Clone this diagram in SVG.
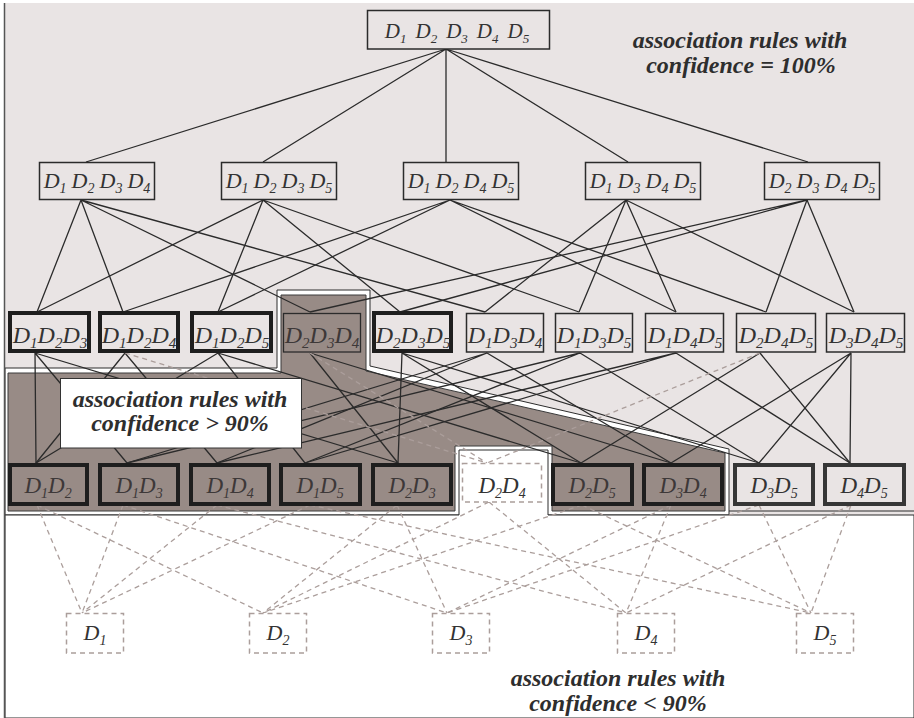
<svg xmlns="http://www.w3.org/2000/svg" width="914" height="718" viewBox="0 0 914 718">
  <style>
    .bg-light { fill: #e9e4e4; }
    .bg-dark { fill: #988b86; stroke: #3a3a3a; stroke-width: 1; }
    .bg-white { fill: #ffffff; stroke: #2d2d2d; stroke-width: 1; }
    .e { fill: none; stroke: #2b2b2b; stroke-width: 1.3; }
    .d { fill: none; stroke: #ab9e9b; stroke-width: 1.3; stroke-dasharray: 5 4; }
    .box { fill: #e9e4e4; stroke: #2b2b2b; stroke-width: 1.5; }
    .boxd { fill: #988b86; stroke: #2b2b2b; stroke-width: 1.3; }
    .thick { fill: #e9e4e4; stroke: #1e1e1e; stroke-width: 4; }
    .thickd { fill: #988b86; stroke: #1e1e1e; stroke-width: 4; }
    .thickg { fill: #e9e4e4; stroke: #363636; stroke-width: 4; }
    .dash { fill: #ffffff; stroke: #ab9e9b; stroke-width: 1.5; stroke-dasharray: 5 4; }
    .n { font-family: "Liberation Serif", "Times New Roman", serif; font-style: italic; fill: #333333; text-anchor: middle; }
    .nd { fill: #3d3838; }
    .t5 { font-size: 21px; }
    .t4 { font-size: 22px; }
    .t3 { font-size: 24px; }
    .t2 { font-size: 23px; }
    .t1 { font-size: 22px; }
    .s13 { font-size: 13px; }
    .s14 { font-size: 14px; }
    .s15 { font-size: 15px; }
    .lab { font-family: "Liberation Serif", "Times New Roman", serif; font-style: italic; font-weight: bold; font-size: 24px; fill: #2e2e2e; text-anchor: middle; }
  </style>

  <!-- confidence regions -->
  <g id="regions">
    <rect class="bg-light" x="5" y="3" width="909" height="512"/>
    <path class="bg-white" d="M5,368 H277 V290 H370 V366 L729,449 V515 H5 Z"/>
    <path class="bg-dark" d="M8,373 H281 V295 H366 V371 L725,453 V511 H552 V446 H455 V511 H8 Z"/>
    <path class="bg-white" d="M5,718 V515 H459 V450 H548 V515 H914 V718 Z"/>
    <line x1="729" y1="511" x2="914" y2="511" stroke="#2d2d2d" stroke-width="1"/>
    <line x1="4.5" y1="3" x2="4.5" y2="718" stroke="#555555" stroke-width="1.5"/>
  </g>

  <!-- connectors -->
  <g id="connectors">
    <!-- 5-set to 4-sets -->
    <path class="e" d="M446,49 L86,162 M446,49 L263,162 M446,49 L446,162 M446,49 L628,162 M446,49 L808,162"/>
    <!-- 4-sets to 3-sets -->
    <path class="e" d="M81,200 L37,312 M81,200 L123,312 M81,200 L485,312 M81,200 L310,312"/>
    <path class="e" d="M263,200 L37,312 M263,200 L218,312 M263,200 L579,312 M263,200 L400,312"/>
    <path class="e" d="M450,200 L123,312 M450,200 L218,312 M450,200 L676,312 M450,200 L766,312"/>
    <path class="e" d="M626,200 L485,312 M626,200 L579,312 M626,200 L676,312 M626,200 L854,312"/>
    <path class="e" d="M807,200 L310,312 M807,200 L400,312 M807,200 L766,312 M807,200 L854,312"/>
    <!-- 3-sets to 2-sets -->
    <path class="e" d="M35,353 L36,463 M35,353 L127,463 M35,353 L398,463"/>
    <path class="e" d="M125,353 L36,463 M125,353 L217,463"/>
    <path class="e" d="M218,353 L36,463 M218,353 L305,463 M218,353 L581,463"/>
    <path class="e" d="M310,353 L398,463 M310,353 L671,463"/>
    <path class="e" d="M402,353 L398,463 M402,353 L581,463 M402,353 L759,463"/>
    <path class="e" d="M487,353 L127,463 M487,353 L217,463 M487,353 L671,463"/>
    <path class="e" d="M580,353 L127,463 M580,353 L305,463 M580,353 L759,463"/>
    <path class="e" d="M676,353 L217,463 M676,353 L305,463 M676,353 L850,463"/>
    <path class="e" d="M760,353 L581,463 M760,353 L850,463"/>
    <path class="e" d="M851,353 L671,463 M851,353 L759,463 M851,353 L850,463"/>
    <!-- edges into the rejected 2-set -->
    <path class="d" d="M125,353 L487,463 M310,353 L487,463 M760,353 L487,463"/>
    <!-- 2-sets to single items -->
    <path class="d" d="M37,505 L82,613 M37,505 L263,613"/>
    <path class="d" d="M123,505 L82,613 M123,505 L447,613"/>
    <path class="d" d="M217,505 L82,613 M217,505 L626,613"/>
    <path class="d" d="M310,505 L82,613 M310,505 L811,613"/>
    <path class="d" d="M397,505 L263,613 M397,505 L447,613"/>
    <path class="d" d="M489,502 L263,613 M489,502 L626,613"/>
    <path class="d" d="M582,505 L263,613 M582,505 L811,613"/>
    <path class="d" d="M671,505 L447,613 M671,505 L626,613"/>
    <path class="d" d="M759,505 L447,613 M759,505 L811,613"/>
    <path class="d" d="M851,505 L626,613 M851,505 L811,613"/>
  </g>

  <!-- 5-itemset -->
  <g id="n12345">
    <rect class="box" x="367.5" y="10.5" width="182" height="38.5"/>
    <text class="n t5" x="457" y="38">D<tspan class="s13" dy="5">1</tspan><tspan dx="9" dy="-5">D</tspan><tspan class="s13" dy="5">2</tspan><tspan dx="9" dy="-5">D</tspan><tspan class="s13" dy="5">3</tspan><tspan dx="9" dy="-5">D</tspan><tspan class="s13" dy="5">4</tspan><tspan dx="9" dy="-5">D</tspan><tspan class="s13" dy="5">5</tspan></text>
  </g>

  <!-- 4-itemsets -->
  <g id="n1234">
    <rect class="box" x="39.5" y="162.5" width="115" height="37"/>
    <text class="n t4" x="97" y="188">D<tspan class="s14" dy="5">1</tspan><tspan dx="5" dy="-5">D</tspan><tspan class="s14" dy="5">2</tspan><tspan dx="5" dy="-5">D</tspan><tspan class="s14" dy="5">3</tspan><tspan dx="5" dy="-5">D</tspan><tspan class="s14" dy="5">4</tspan></text>
  </g>
  <g id="n1235">
    <rect class="box" x="221.5" y="162.5" width="115" height="37"/>
    <text class="n t4" x="279" y="188">D<tspan class="s14" dy="5">1</tspan><tspan dx="5" dy="-5">D</tspan><tspan class="s14" dy="5">2</tspan><tspan dx="5" dy="-5">D</tspan><tspan class="s14" dy="5">3</tspan><tspan dx="5" dy="-5">D</tspan><tspan class="s14" dy="5">5</tspan></text>
  </g>
  <g id="n1245">
    <rect class="box" x="403.5" y="162.5" width="115" height="37"/>
    <text class="n t4" x="461" y="188">D<tspan class="s14" dy="5">1</tspan><tspan dx="5" dy="-5">D</tspan><tspan class="s14" dy="5">2</tspan><tspan dx="5" dy="-5">D</tspan><tspan class="s14" dy="5">4</tspan><tspan dx="5" dy="-5">D</tspan><tspan class="s14" dy="5">5</tspan></text>
  </g>
  <g id="n1345">
    <rect class="box" x="585.5" y="162.5" width="115" height="37"/>
    <text class="n t4" x="643" y="188">D<tspan class="s14" dy="5">1</tspan><tspan dx="5" dy="-5">D</tspan><tspan class="s14" dy="5">3</tspan><tspan dx="5" dy="-5">D</tspan><tspan class="s14" dy="5">4</tspan><tspan dx="5" dy="-5">D</tspan><tspan class="s14" dy="5">5</tspan></text>
  </g>
  <g id="n2345">
    <rect class="box" x="764.5" y="162.5" width="115" height="37"/>
    <text class="n t4" x="822" y="188">D<tspan class="s14" dy="5">2</tspan><tspan dx="5" dy="-5">D</tspan><tspan class="s14" dy="5">3</tspan><tspan dx="5" dy="-5">D</tspan><tspan class="s14" dy="5">4</tspan><tspan dx="5" dy="-5">D</tspan><tspan class="s14" dy="5">5</tspan></text>
  </g>

  <!-- 3-itemsets -->
  <g id="n123">
    <rect class="thick" x="10" y="313" width="79" height="38"/>
    <text class="n t3" x="50" y="343">D<tspan class="s15" dy="5">1</tspan><tspan dy="-5">D</tspan><tspan class="s15" dy="5">2</tspan><tspan dy="-5">D</tspan><tspan class="s15" dy="5">3</tspan></text>
  </g>
  <g id="n124">
    <rect class="thick" x="100" y="313" width="78" height="38"/>
    <text class="n t3" x="139" y="343">D<tspan class="s15" dy="5">1</tspan><tspan dy="-5">D</tspan><tspan class="s15" dy="5">2</tspan><tspan dy="-5">D</tspan><tspan class="s15" dy="5">4</tspan></text>
  </g>
  <g id="n125">
    <rect class="thick" x="192" y="313" width="79" height="38"/>
    <text class="n t3" x="232" y="343">D<tspan class="s15" dy="5">1</tspan><tspan dy="-5">D</tspan><tspan class="s15" dy="5">2</tspan><tspan dy="-5">D</tspan><tspan class="s15" dy="5">5</tspan></text>
  </g>
  <g id="n234">
    <rect class="boxd" x="283.5" y="313.5" width="77" height="38.5"/>
    <text class="n nd t3" x="322" y="343">D<tspan class="s15" dy="5">2</tspan><tspan dy="-5">D</tspan><tspan class="s15" dy="5">3</tspan><tspan dy="-5">D</tspan><tspan class="s15" dy="5">4</tspan></text>
  </g>
  <g id="n235">
    <rect class="thick" x="374" y="313" width="77" height="38"/>
    <text class="n t3" x="413" y="343">D<tspan class="s15" dy="5">2</tspan><tspan dy="-5">D</tspan><tspan class="s15" dy="5">3</tspan><tspan dy="-5">D</tspan><tspan class="s15" dy="5">5</tspan></text>
  </g>
  <g id="n134">
    <rect class="box" x="466.5" y="313.5" width="77" height="38.5"/>
    <text class="n t3" x="505" y="343">D<tspan class="s15" dy="5">1</tspan><tspan dy="-5">D</tspan><tspan class="s15" dy="5">3</tspan><tspan dy="-5">D</tspan><tspan class="s15" dy="5">4</tspan></text>
  </g>
  <g id="n135">
    <rect class="box" x="555.5" y="313.5" width="77" height="38.5"/>
    <text class="n t3" x="594" y="343">D<tspan class="s15" dy="5">1</tspan><tspan dy="-5">D</tspan><tspan class="s15" dy="5">3</tspan><tspan dy="-5">D</tspan><tspan class="s15" dy="5">5</tspan></text>
  </g>
  <g id="n145">
    <rect class="box" x="645.5" y="313.5" width="78" height="38.5"/>
    <text class="n t3" x="685" y="343">D<tspan class="s15" dy="5">1</tspan><tspan dy="-5">D</tspan><tspan class="s15" dy="5">4</tspan><tspan dy="-5">D</tspan><tspan class="s15" dy="5">5</tspan></text>
  </g>
  <g id="n245">
    <rect class="box" x="736.5" y="313.5" width="79" height="38.5"/>
    <text class="n t3" x="776" y="343">D<tspan class="s15" dy="5">2</tspan><tspan dy="-5">D</tspan><tspan class="s15" dy="5">4</tspan><tspan dy="-5">D</tspan><tspan class="s15" dy="5">5</tspan></text>
  </g>
  <g id="n345">
    <rect class="box" x="826.5" y="313.5" width="78" height="38.5"/>
    <text class="n t3" x="866" y="343">D<tspan class="s15" dy="5">3</tspan><tspan dy="-5">D</tspan><tspan class="s15" dy="5">4</tspan><tspan dy="-5">D</tspan><tspan class="s15" dy="5">5</tspan></text>
  </g>

  <!-- 2-itemsets -->
  <g id="n12">
    <rect class="thickd" x="10" y="465" width="77" height="39"/>
    <text class="n nd t2" x="48" y="493">D<tspan class="s14" dy="5">1</tspan><tspan dy="-5">D</tspan><tspan class="s14" dy="5">2</tspan></text>
  </g>
  <g id="n13">
    <rect class="thickd" x="100" y="465" width="78" height="39"/>
    <text class="n nd t2" x="139" y="493">D<tspan class="s14" dy="5">1</tspan><tspan dy="-5">D</tspan><tspan class="s14" dy="5">3</tspan></text>
  </g>
  <g id="n14">
    <rect class="thickd" x="191" y="465" width="78" height="39"/>
    <text class="n nd t2" x="230" y="493">D<tspan class="s14" dy="5">1</tspan><tspan dy="-5">D</tspan><tspan class="s14" dy="5">4</tspan></text>
  </g>
  <g id="n15">
    <rect class="thickd" x="281" y="465" width="79" height="39"/>
    <text class="n nd t2" x="320" y="493">D<tspan class="s14" dy="5">1</tspan><tspan dy="-5">D</tspan><tspan class="s14" dy="5">5</tspan></text>
  </g>
  <g id="n23">
    <rect class="thickd" x="373" y="465" width="78" height="39"/>
    <text class="n nd t2" x="412" y="493">D<tspan class="s14" dy="5">2</tspan><tspan dy="-5">D</tspan><tspan class="s14" dy="5">3</tspan></text>
  </g>
  <g id="n24">
    <rect class="dash" x="462.5" y="463.5" width="79" height="38.5"/>
    <text class="n t2" x="502" y="493">D<tspan class="s14" dy="5">2</tspan><tspan dy="-5">D</tspan><tspan class="s14" dy="5">4</tspan></text>
  </g>
  <g id="n25">
    <rect class="thickd" x="553" y="465" width="79" height="39"/>
    <text class="n nd t2" x="592" y="493">D<tspan class="s14" dy="5">2</tspan><tspan dy="-5">D</tspan><tspan class="s14" dy="5">5</tspan></text>
  </g>
  <g id="n34">
    <rect class="thickd" x="644" y="465" width="78" height="39"/>
    <text class="n nd t2" x="683" y="493">D<tspan class="s14" dy="5">3</tspan><tspan dy="-5">D</tspan><tspan class="s14" dy="5">4</tspan></text>
  </g>
  <g id="n35">
    <rect class="thickg" x="735" y="465" width="78" height="39"/>
    <text class="n t2" x="774" y="493">D<tspan class="s14" dy="5">3</tspan><tspan dy="-5">D</tspan><tspan class="s14" dy="5">5</tspan></text>
  </g>
  <g id="n45">
    <rect class="thickg" x="825" y="465" width="79" height="39"/>
    <text class="n t2" x="864" y="493">D<tspan class="s14" dy="5">4</tspan><tspan dy="-5">D</tspan><tspan class="s14" dy="5">5</tspan></text>
  </g>

  <!-- single items -->
  <g id="n1">
    <rect class="dash" x="66.5" y="613.5" width="57" height="39.5"/>
    <text class="n t1" x="95" y="640">D<tspan class="s14" dy="5">1</tspan></text>
  </g>
  <g id="n2">
    <rect class="dash" x="249.5" y="613.5" width="57" height="39.5"/>
    <text class="n t1" x="278" y="640">D<tspan class="s14" dy="5">2</tspan></text>
  </g>
  <g id="n3">
    <rect class="dash" x="432.5" y="613.5" width="57" height="39.5"/>
    <text class="n t1" x="461" y="640">D<tspan class="s14" dy="5">3</tspan></text>
  </g>
  <g id="n4">
    <rect class="dash" x="617.5" y="613.5" width="57" height="39.5"/>
    <text class="n t1" x="646" y="640">D<tspan class="s14" dy="5">4</tspan></text>
  </g>
  <g id="n5">
    <rect class="dash" x="796.5" y="613.5" width="57" height="39.5"/>
    <text class="n t1" x="825" y="640">D<tspan class="s14" dy="5">5</tspan></text>
  </g>

  <!-- region captions -->
  <g id="caption-100">
    <text class="lab" x="740" y="48">association rules with</text>
    <text class="lab" x="741" y="73">confidence = 100%</text>
  </g>
  <g id="caption-90">
    <rect x="60.5" y="378.5" width="241" height="69.5" fill="#ffffff" stroke="#333333" stroke-width="1"/>
    <text class="lab" x="180" y="407">association rules with</text>
    <text class="lab" x="180" y="431">confidence &gt; 90%</text>
  </g>
  <g id="caption-below">
    <text class="lab" x="618" y="686">association rules with</text>
    <text class="lab" x="618" y="711">confidence &lt; 90%</text>
  </g>
</svg>
